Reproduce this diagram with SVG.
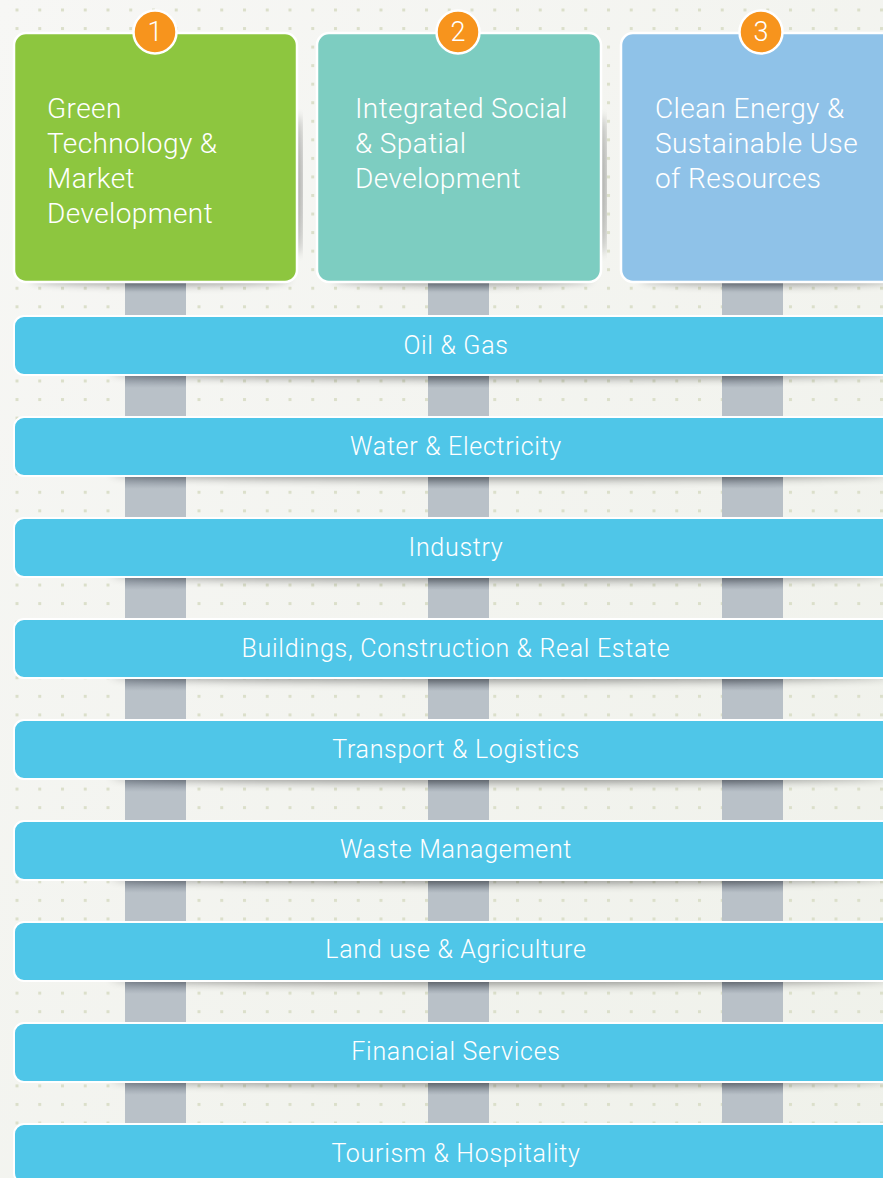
<svg xmlns="http://www.w3.org/2000/svg" width="883" height="1178" viewBox="0 0 883 1178">
<defs>
<style>
.bar{fill:#4fc6e8;stroke:#ffffff;stroke-width:2}
.btxt{font-family:Roboto,"Liberation Sans",sans-serif;font-weight:300;font-size:25px;letter-spacing:0.7px;fill:#ffffff;text-anchor:middle}
.ttl{font-family:Roboto,"Liberation Sans",sans-serif;font-weight:300;font-size:28px;letter-spacing:0.4px;fill:#ffffff}
.badge{fill:#f7941d;stroke:#ffffff;stroke-width:2.5}
.num{font-family:Roboto,"Liberation Sans",sans-serif;font-weight:300;font-size:27px;fill:#ffffff;text-anchor:middle}
.pil{fill:url(#pg)}
.box{stroke:#ffffff;stroke-width:2.5}
.sh{fill:#000000;opacity:0.38;filter:url(#blur)}
</style>
<pattern id="dots" patternUnits="userSpaceOnUse" x="15.5" y="8.5" width="22.75" height="18.55">
<rect x="0" y="0" width="3" height="3" fill="#dbdfca"/>
</pattern>
<linearGradient id="bg" x1="0" y1="0" x2="1" y2="1">
<stop offset="0" stop-color="#f7f7f5"/>
<stop offset="1" stop-color="#eff1ea"/>
</linearGradient>
<linearGradient id="pg" x1="0" y1="0" x2="0" y2="1">
<stop offset="0" stop-color="#87909b"/>
<stop offset="0.3" stop-color="#b9c1c8"/>
<stop offset="1" stop-color="#b9c1c8"/>
</linearGradient>
<filter id="blur" x="-10%" y="-200%" width="120%" height="500%">
<feGaussianBlur stdDeviation="4"/>
</filter>
</defs>
<rect x="0" y="0" width="883" height="1178" fill="url(#bg)"/>
<rect x="0" y="0" width="883" height="1178" fill="url(#dots)"/>

<g id="connectors">
<rect class="pil" x="125" y="282" width="61" height="34"/>
<rect class="pil" x="428" y="282" width="61" height="34"/>
<rect class="pil" x="722" y="282" width="61" height="34"/>
<rect class="pil" x="125" y="375" width="61" height="43"/>
<rect class="pil" x="428" y="375" width="61" height="43"/>
<rect class="pil" x="722" y="375" width="61" height="43"/>
<rect class="pil" x="125" y="476" width="61" height="43"/>
<rect class="pil" x="428" y="476" width="61" height="43"/>
<rect class="pil" x="722" y="476" width="61" height="43"/>
<rect class="pil" x="125" y="577" width="61" height="43"/>
<rect class="pil" x="428" y="577" width="61" height="43"/>
<rect class="pil" x="722" y="577" width="61" height="43"/>
<rect class="pil" x="125" y="678" width="61" height="43"/>
<rect class="pil" x="428" y="678" width="61" height="43"/>
<rect class="pil" x="722" y="678" width="61" height="43"/>
<rect class="pil" x="125" y="779" width="61" height="43"/>
<rect class="pil" x="428" y="779" width="61" height="43"/>
<rect class="pil" x="722" y="779" width="61" height="43"/>
<rect class="pil" x="125" y="880" width="61" height="43"/>
<rect class="pil" x="428" y="880" width="61" height="43"/>
<rect class="pil" x="722" y="880" width="61" height="43"/>
<rect class="pil" x="125" y="981" width="61" height="43"/>
<rect class="pil" x="428" y="981" width="61" height="43"/>
<rect class="pil" x="722" y="981" width="61" height="43"/>
<rect class="pil" x="125" y="1082" width="61" height="43"/>
<rect class="pil" x="428" y="1082" width="61" height="43"/>
<rect class="pil" x="722" y="1082" width="61" height="43"/>
</g>

<g id="shadows">
<ellipse class="sh" cx="160" cy="279" rx="130" ry="6"/>
<ellipse class="sh" cx="462" cy="279" rx="130" ry="6"/>
<ellipse class="sh" cx="770" cy="279" rx="130" ry="6"/>
<ellipse class="sh" cx="298" cy="185" rx="4" ry="70" opacity="0.3"/>
<ellipse class="sh" cx="602" cy="185" rx="4" ry="70" opacity="0.3"/>
<ellipse class="sh" cx="500" cy="373" rx="390" ry="6"/>
<ellipse class="sh" cx="500" cy="474" rx="390" ry="6"/>
<ellipse class="sh" cx="500" cy="575" rx="390" ry="6"/>
<ellipse class="sh" cx="500" cy="676" rx="390" ry="6"/>
<ellipse class="sh" cx="500" cy="777" rx="390" ry="6"/>
<ellipse class="sh" cx="500" cy="878" rx="390" ry="6"/>
<ellipse class="sh" cx="500" cy="979" rx="390" ry="6"/>
<ellipse class="sh" cx="500" cy="1080" rx="390" ry="6"/>
</g>

<g id="node-1">
<rect class="box" x="14" y="33" width="283" height="249" rx="12" fill="#8dc63f"/>
<circle class="badge" cx="155" cy="32" r="21.5"/>
<text class="num" x="155" y="41">1</text>
<text class="ttl" x="47" y="118">Green</text>
<text class="ttl" x="47" y="153">Technology &amp;</text>
<text class="ttl" x="47" y="188">Market</text>
<text class="ttl" x="47" y="223">Development</text>
</g>
<g id="node-2">
<rect class="box" x="317" y="33" width="284" height="249" rx="12" fill="#7dcdc1"/>
<circle class="badge" cx="458" cy="32" r="21.5"/>
<text class="num" x="458" y="41">2</text>
<text class="ttl" x="355" y="118">Integrated Social</text>
<text class="ttl" x="355" y="153">&amp; Spatial</text>
<text class="ttl" x="355" y="188">Development</text>
</g>
<g id="node-3">
<rect class="box" x="621" y="33" width="300" height="249" rx="12" fill="#8fc2e8"/>
<circle class="badge" cx="761" cy="32" r="21.5"/>
<text class="num" x="761" y="41">3</text>
<text class="ttl" x="655" y="118">Clean Energy &amp;</text>
<text class="ttl" x="655" y="153">Sustainable Use</text>
<text class="ttl" x="655" y="188">of Resources</text>
</g>

<g id="bar-oil-gas"><rect class="bar" x="14" y="316" width="900" height="59" rx="10"/><text class="btxt" x="456" y="354">Oil &amp; Gas</text></g>
<g id="bar-water"><rect class="bar" x="14" y="417" width="900" height="59" rx="10"/><text class="btxt" x="456" y="455">Water &amp; Electricity</text></g>
<g id="bar-industry"><rect class="bar" x="14" y="518" width="900" height="59" rx="10"/><text class="btxt" x="456" y="556">Industry</text></g>
<g id="bar-buildings"><rect class="bar" x="14" y="619" width="900" height="59" rx="10"/><text class="btxt" x="456" y="657">Buildings, Construction &amp; Real Estate</text></g>
<g id="bar-transport"><rect class="bar" x="14" y="720" width="900" height="59" rx="10"/><text class="btxt" x="456" y="758">Transport &amp; Logistics</text></g>
<g id="bar-waste"><rect class="bar" x="14" y="821" width="900" height="59" rx="10"/><text class="btxt" x="456" y="858">Waste Management</text></g>
<g id="bar-land"><rect class="bar" x="14" y="922" width="900" height="59" rx="10"/><text class="btxt" x="456" y="958">Land use &amp; Agriculture</text></g>
<g id="bar-financial"><rect class="bar" x="14" y="1023" width="900" height="59" rx="10"/><text class="btxt" x="456" y="1060">Financial Services</text></g>
<g id="bar-tourism"><rect class="bar" x="14" y="1124" width="900" height="59" rx="10"/><text class="btxt" x="456" y="1162">Tourism &amp; Hospitality</text></g>
</svg>
